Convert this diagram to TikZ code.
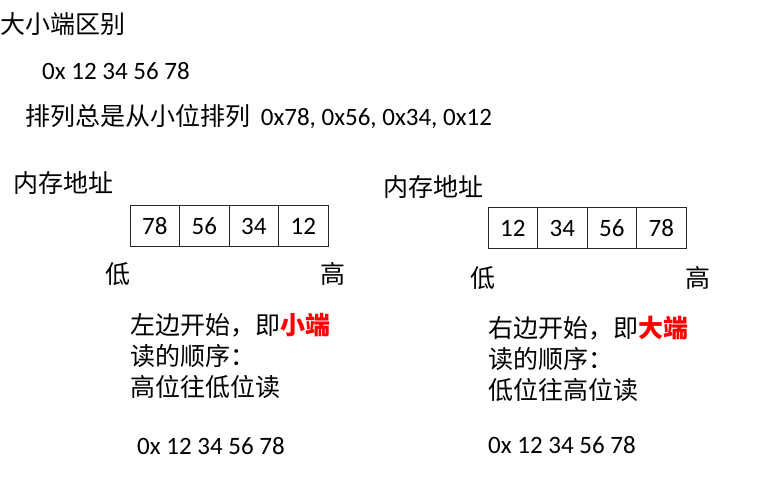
\documentclass[tikz,border=0pt]{standalone}
\usepackage{fontspec}
\setmainfont{Carlito}
\newfontfamily\cjk{Noto Sans CJK SC}
\begin{document}
\begin{tikzpicture}[x=1pt,y=-1pt,
  txt/.style={anchor=west,inner sep=0pt,font=\fontsize{25}{30}\selectfont},
  cell/.style={draw=black!85,line width=1pt,minimum width=49.5pt,minimum height=41pt,inner sep=0pt,outer sep=0pt,anchor=west,font=\fontsize{25}{30}\selectfont}]
\useasboundingbox (0,0) rectangle (758,478);
\node[txt] (title) at (0,24) {\cjk 大小端区别};
\node[txt] (num) at (42,71) {0x 12 34 56 78};
\node[txt] (order) at (25,117) {{\cjk 排列总是从小位排列}\hspace{5pt} 0x78, 0x56, 0x34, 0x12};
% left
\node[txt] (addrL) at (13,183) {\cjk 内存地址};
\node[cell] (l1) at (130,226) {78};
\node[cell] (l2) at (l1.east) {56};
\node[cell] (l3) at (l2.east) {34};
\node[cell] (l4) at (l3.east) {12};
\node[txt] (lowL) at (105,274) {\cjk 低};
\node[txt] (highL) at (320,274) {\cjk 高};
\node[txt] (ltA) at (130,325) {\cjk 左边开始，即{\bfseries\color{red}小端}};
\node[txt] (ltB) at (130,356) {\cjk 读的顺序：};
\node[txt] (ltC) at (130,387) {\cjk 高位往低位读};
\node[txt] (lnum) at (137,446) {0x 12 34 56 78};
% right
\node[txt] (addrR) at (383,187) {\cjk 内存地址};
\node[cell] (r1) at (488,228.5) {12};
\node[cell] (r2) at (r1.east) {34};
\node[cell] (r3) at (r2.east) {56};
\node[cell] (r4) at (r3.east) {78};
\node[txt] (lowR) at (470,278) {\cjk 低};
\node[txt] (highR) at (685,278) {\cjk 高};
\node[txt] (rtA) at (488,328) {\cjk 右边开始，即{\bfseries\color{red}大端}};
\node[txt] (rtB) at (488,359) {\cjk 读的顺序：};
\node[txt] (rtC) at (488,390) {\cjk 低位往高位读};
\node[txt] (rnum) at (488,445) {0x 12 34 56 78};
\end{tikzpicture}
\end{document}
